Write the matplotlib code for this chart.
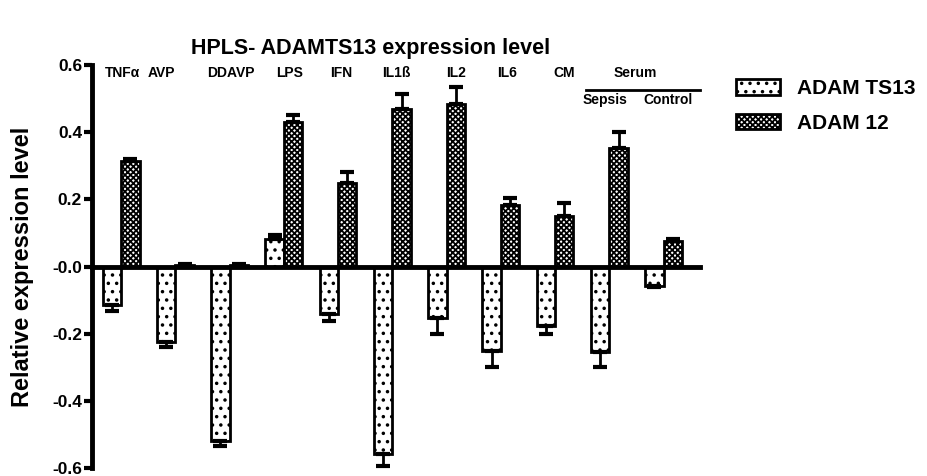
import matplotlib
matplotlib.use('Agg')
import matplotlib.pyplot as plt
from matplotlib.patches import Patch
import numpy as np

plt.rcParams['font.family'] = ['Liberation Sans', 'DejaVu Sans']
plt.rcParams['font.weight'] = 'bold'
plt.rcParams['hatch.linewidth'] = 1.3

groups = ['TNFα', 'AVP', 'DDAVP', 'LPS', 'IFN', 'IL1ß', 'IL2', 'IL6', 'CM', 'Sepsis', 'Control']
ts13 = [-0.115, -0.226, -0.519, 0.083, -0.14, -0.559, -0.153, -0.251, -0.177, -0.256, -0.057]
ts13_err = [0.018, 0.015, 0.014, 0.01, 0.021, 0.034, 0.048, 0.049, 0.024, 0.044, 0.004]
adam12 = [0.313, 0.004, 0.004, 0.43, 0.248, 0.469, 0.484, 0.182, 0.149, 0.352, 0.077]
adam12_err = [0.007, 0.002, 0.002, 0.02, 0.032, 0.044, 0.05, 0.021, 0.041, 0.048, 0.004]

top_labels = ['TNFα', 'AVP', 'DDAVP', 'LPS', 'IFN', 'IL1ß', 'IL2', 'IL6', 'CM']
top_label_x = [0.02, 0.75, 2.03, 3.11, 4.06, 5.07, 6.17, 7.11, 8.17]

x = np.arange(len(groups))
w = 0.34

fig = plt.figure(figsize=(9.27, 4.76), dpi=100)
ax = fig.add_axes([0.099, 0.0168, 0.656, 0.8466])

def one_sided(vals, errs):
    lo = [e if v < 0 else 0 for v, e in zip(vals, errs)]
    hi = [e if v >= 0 else 0 for v, e in zip(vals, errs)]
    return [lo, hi]

ekw = dict(elinewidth=2, capsize=5, capthick=3, ecolor='black')
ax.bar(x - w / 2, ts13, w, color='white', edgecolor='black', linewidth=2, hatch='..',
       yerr=one_sided(ts13, ts13_err), error_kw=ekw)
ax.bar(x + w / 2, adam12, w, color='white', edgecolor='black', linewidth=2, hatch='xxxxxx',
       yerr=one_sided(adam12, adam12_err), error_kw=ekw)

ax.set_xlim(-0.54, 10.67)
ax.set_ylim(-0.6, 0.6)
ax.set_yticks([-0.6, -0.4, -0.2, 0.0, 0.2, 0.4, 0.6])
ax.set_yticklabels(['-0.6', '-0.4', '-0.2', '-0.0', '0.2', '0.4', '0.6'])
ax.set_xticks([])
ax.spines['top'].set_visible(False)
ax.spines['right'].set_visible(False)
ax.spines['bottom'].set_position(('data', 0))
ax.spines['bottom'].set_linewidth(3.5)
ax.spines['left'].set_linewidth(3.5)
ax.tick_params(axis='y', width=3, length=6, labelsize=12.5, pad=1)
for lab in ax.get_yticklabels():
    lab.set_fontweight('bold')

ax.set_ylabel('Relative expression level', fontsize=17, fontweight='bold')
ax.yaxis.set_label_coords(-0.095, 0.5)

for lab, lx in zip(top_labels, top_label_x):
    ax.text(lx, 0.575, lab, ha='center', va='center', fontsize=10, fontweight='bold')
ax.text(9.48, 0.575, 'Serum', ha='center', va='center', fontsize=10, fontweight='bold')
ax.plot([8.57, 10.67], [0.526, 0.526], color='black', lw=2, clip_on=False)
ax.text(8.92, 0.497, 'Sepsis', ha='center', va='center', fontsize=10, fontweight='bold')
ax.text(10.08, 0.497, 'Control', ha='center', va='center', fontsize=10, fontweight='bold')

fig.text(0.4, 0.898, 'HPLS- ADAMTS13 expression level', ha='center', va='center',
         fontsize=15.5, fontweight='bold')

handles = [Patch(facecolor='white', edgecolor='black', linewidth=2, hatch='..', label='ADAM TS13'),
           Patch(facecolor='white', edgecolor='black', linewidth=2, hatch='xxxxxx', label='ADAM 12')]
fig.legend(handles=handles, loc='upper left', bbox_to_anchor=(0.778, 0.864), frameon=False,
           prop={'size': 15, 'weight': 'bold'}, handlelength=2.1, handleheight=0.75,
           labelspacing=0.75, handletextpad=0.85, borderpad=0.2)

fig.savefig('out.png', dpi=100)
